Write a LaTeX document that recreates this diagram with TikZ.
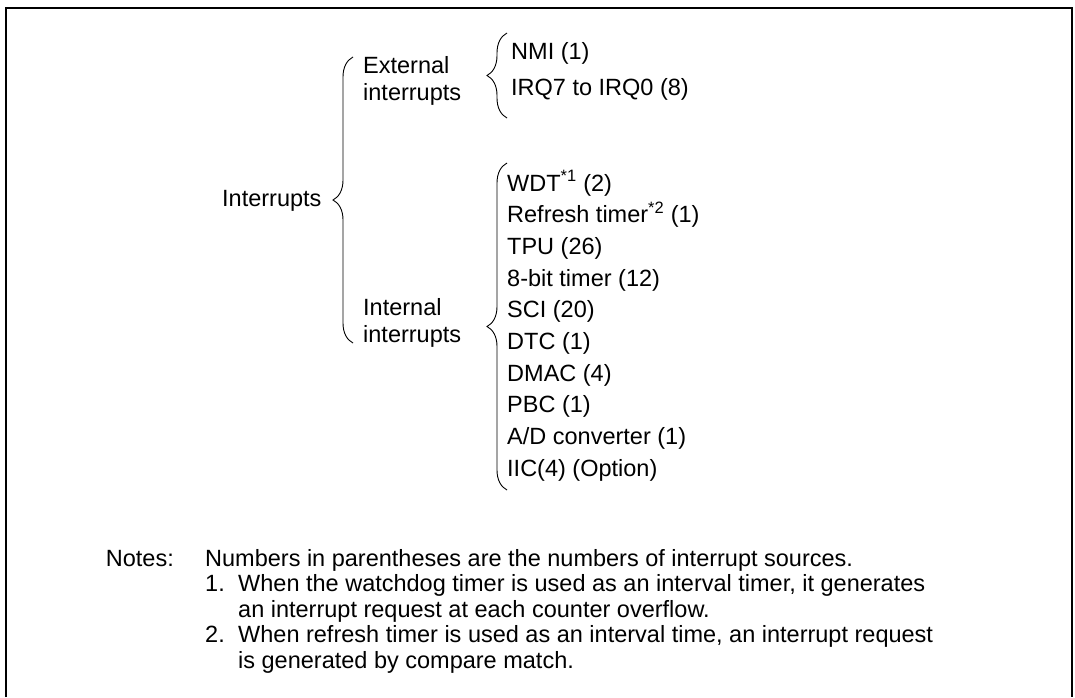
\documentclass[tikz,border=0pt]{standalone}
\usepackage{fontspec}
\setmainfont{Liberation Sans}
\usetikzlibrary{decorations.pathreplacing}
\tikzset{
  lbl/.style={anchor=base west,inner sep=0pt},
  brc/.style={decorate,decoration={brace,amplitude=20pt},line width=0.9pt},
}
\begin{document}
\begin{tikzpicture}[x=1pt,y=-1pt,font=\fontsize{23.5}{27}\selectfont]
  \useasboundingbox (0,0) rectangle (1075,697);
  \draw[line width=2pt] (6,697) -- (6,8) -- (1072,8) -- (1072,697);
  \node[lbl] (intr) at (222,206) {Interrupts};
  \node[lbl] (ext1) at (363,73) {External};
  \node[lbl] (ext2) at (363,100) {interrupts};
  \node[lbl] (in1) at (363,315) {Internal};
  \node[lbl] (in2) at (363,342) {interrupts};
  \draw[brc] (353,343) -- (353,57);
  \draw[brc] (507,118) -- (507,33);
  \draw[brc] (507,490) -- (507,163);
  \node[lbl] (nmi) at (511,59) {NMI (1)};
  \node[lbl] (irq) at (511,95) {IRQ7 to IRQ0 (8)};
  \foreach \src [count=\i from 0] in {WDT\textsuperscript{*1} (2),Refresh timer\textsuperscript{*2} (1),TPU (26),8-bit timer (12),SCI (20),DTC (1),DMAC (4),PBC (1),A/D converter (1),IIC(4) (Option)}
    \node[lbl] (src\i) at (507,191+31.7*\i) {\src};
  \node[anchor=base east,inner sep=0pt] (notes) at (174,566) {Notes:};
  \node[lbl] (nt0) at (205,566) {Numbers in parentheses are the numbers of interrupt sources.};
  \node[lbl] (nt1) at (205,591.5) {1.};
  \node[lbl] (nt1a) at (238,591.5) {When the watchdog timer is used as an interval timer, it generates};
  \node[lbl] (nt1b) at (238,617) {an interrupt request at each counter overflow.};
  \node[lbl] (nt2) at (205,642.5) {2.};
  \node[lbl] (nt2a) at (238,642.5) {When refresh timer is used as an interval time, an interrupt request};
  \node[lbl] (nt2b) at (238,668) {is generated by compare match.};
\end{tikzpicture}
\end{document}
